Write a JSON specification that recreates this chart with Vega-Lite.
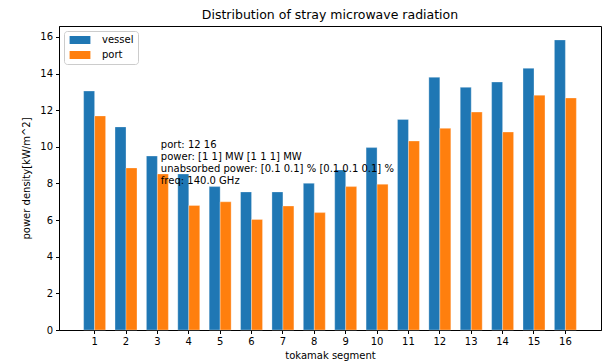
{
  "$schema": "https://vega.github.io/schema/vega-lite/v6.json",
  "width": 542,
  "height": 304,
  "autosize": {"type": "none"},
  "padding": {"left": 59, "top": 26, "right": 7, "bottom": 31},
  "background": "white",
  "title": {"text": "Distribution of stray microwave radiation", "font": "DejaVu Sans", "fontSize": 12.5, "fontWeight": "normal", "color": "#000000", "offset": 5},
  "config": {
    "view": {"stroke": "#000000", "strokeWidth": 1},
    "font": "DejaVu Sans",
    "axis": {"labelFont": "DejaVu Sans", "titleFont": "DejaVu Sans", "labelFontSize": 10, "titleFontSize": 10, "titleFontWeight": "normal", "labelColor": "#000000", "titleColor": "#000000", "domainColor": "#000000", "tickColor": "#000000", "tickSize": 3.5, "grid": false, "labelPadding": 3}
  },
  "datasets": {
    "bars": [
      {"segment": 1, "series": "vessel", "value": 13.05}, {"segment": 1, "series": " port", "value": 11.69},
      {"segment": 2, "series": "vessel", "value": 11.09}, {"segment": 2, "series": " port", "value": 8.85},
      {"segment": 3, "series": "vessel", "value": 9.5}, {"segment": 3, "series": " port", "value": 8.52},
      {"segment": 4, "series": "vessel", "value": 8.52}, {"segment": 4, "series": " port", "value": 6.8},
      {"segment": 5, "series": "vessel", "value": 7.83}, {"segment": 5, "series": " port", "value": 7.0},
      {"segment": 6, "series": "vessel", "value": 7.54}, {"segment": 6, "series": " port", "value": 6.04},
      {"segment": 7, "series": "vessel", "value": 7.54}, {"segment": 7, "series": " port", "value": 6.77},
      {"segment": 8, "series": "vessel", "value": 8.01}, {"segment": 8, "series": " port", "value": 6.41},
      {"segment": 9, "series": "vessel", "value": 8.74}, {"segment": 9, "series": " port", "value": 7.83},
      {"segment": 10, "series": "vessel", "value": 9.96}, {"segment": 10, "series": " port", "value": 7.96},
      {"segment": 11, "series": "vessel", "value": 11.5}, {"segment": 11, "series": " port", "value": 10.32},
      {"segment": 12, "series": "vessel", "value": 13.8}, {"segment": 12, "series": " port", "value": 11.01},
      {"segment": 13, "series": "vessel", "value": 13.25}, {"segment": 13, "series": " port", "value": 11.9},
      {"segment": 14, "series": "vessel", "value": 13.54}, {"segment": 14, "series": " port", "value": 10.81},
      {"segment": 15, "series": "vessel", "value": 14.29}, {"segment": 15, "series": " port", "value": 12.82},
      {"segment": 16, "series": "vessel", "value": 15.84}, {"segment": 16, "series": " port", "value": 12.67}
    ],
    "note": [{"kind": "annotation"}]
  },
  "layer": [
    {
      "data": {"name": "bars"},
      "mark": {"type": "bar", "stroke": "white", "strokeWidth": 0.5, "strokeOpacity": 0.6},
      "encoding": {
        "x": {"field": "segment", "type": "ordinal", "sort": "ascending",
              "scale": {"paddingInner": 0.3, "paddingOuter": 0.785},
              "axis": {"title": "tokamak segment", "labelAngle": 0, "titlePadding": 4}},
        "xOffset": {"field": "series", "type": "nominal", "sort": ["vessel", " port"],
                    "scale": {"paddingInner": 0, "paddingOuter": 0}},
        "y": {"field": "value", "type": "quantitative",
              "scale": {"domain": [0, 16.6], "nice": false, "zero": true},
              "axis": {"title": "power density[kW/m^2]", "values": [0, 2, 4, 6, 8, 10, 12, 14, 16], "labelOverlap": false, "titlePadding": 8}},
        "color": {"field": "series", "type": "nominal",
                  "scale": {"domain": ["vessel", " port"], "range": ["#1f77b4", "#ff7f0e"]},
                  "legend": {"title": null, "orient": "top-left", "offset": 5, "padding": 4,
                             "fillColor": "white", "strokeColor": "#cccccc", "cornerRadius": 3,
                             "symbolType": "M-2.6,-1H2.6V1H-2.6Z", "symbolSize": 64,
                             "symbolStrokeWidth": 0, "symbolOpacity": 1, "symbolOffset": 7,
                             "labelExpr": "datum.label == ' port' ? '\u00a0port' : datum.label",
                             "labelFont": "DejaVu Sans", "labelFontSize": 10, "labelColor": "#000000",
                             "labelOffset": 17, "rowPadding": 5}}
      }
    },
    {
      "data": {"name": "note"},
      "mark": {"type": "text", "align": "left", "baseline": "top", "font": "DejaVu Sans", "fontSize": 10, "lineHeight": 12, "color": "#000000"},
      "encoding": {
        "x": {"datum": 3.11, "type": "quantitative", "scale": {"domain": [-0.135, 17.135], "nice": false, "zero": false}, "axis": null},
        "y": {"datum": 10.35, "type": "quantitative",
              "axis": {"title": "power density[kW/m^2]", "values": [0, 2, 4, 6, 8, 10, 12, 14, 16], "labelOverlap": false, "titlePadding": 8}},
        "text": {"value": ["port: 12 16", "power: [1 1] MW [1 1 1] MW", "unabsorbed power: [0.1 0.1] % [0.1 0.1 0.1] %", "freq: 140.0 GHz"]}
      }
    }
  ],
  "resolve": {"scale": {"x": "independent"}}
}
